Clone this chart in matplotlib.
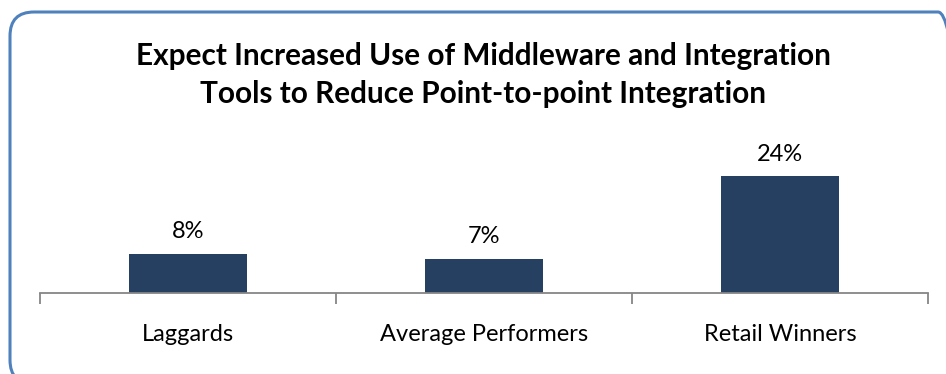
import matplotlib
matplotlib.use('Agg')
import matplotlib.pyplot as plt
from matplotlib.patches import FancyBboxPatch

categories = ['Laggards', 'Average Performers', 'Retail Winners']
values = [8, 7, 24]
value_labels = ['8%', '7%', '24%']

plt.rcParams['font.family'] = ['Lato', 'DejaVu Sans']

W, H = 946, 374
fig = plt.figure(figsize=(W / 100, H / 100), dpi=100)

# rounded border in pixel coords, running off the right/bottom edge
border = FancyBboxPatch((10, -10), 952, H - 12 + 10,
                        boxstyle='round,pad=0,rounding_size=24',
                        transform=None, fill=False,
                        edgecolor='#4F81BD', linewidth=2.2)
fig.patches.append(border)

fig.text(483 / W, 1 - 75 / H,
         'Expect Increased Use of Middleware and Integration\nTools to Reduce Point-to-point Integration',
         ha='center', va='center', fontsize=21.4, fontweight='bold',
         linespacing=1.41, color='black')

ax = fig.add_axes([40 / W, 1 - 293 / H, 888 / W, 146 / H])
x = range(len(categories))
bars = ax.bar(x, values, width=0.40, color='#264061')
for xi, v, lab in zip(x, values, value_labels):
    ax.text(xi, v + 2.4, lab, ha='center', va='bottom', fontsize=17)

ax.set_xlim(-0.5, 2.5)
ax.set_ylim(0, 30)
ax.set_yticks([])
for s in ['top', 'right', 'left']:
    ax.spines[s].set_visible(False)
ax.spines['bottom'].set_color('#868686')
ax.spines['bottom'].set_linewidth(1.3)

ax.set_xticks([-0.5, 0.5, 1.5, 2.5])
ax.set_xticklabels([])
ax.tick_params(axis='x', length=8, width=1.3, color='#868686')
ax.set_xticks(list(x), minor=True)
ax.set_xticklabels(categories, minor=True, fontsize=17)
ax.tick_params(axis='x', which='minor', length=0, pad=22)

fig.savefig('out.png', dpi=100)
